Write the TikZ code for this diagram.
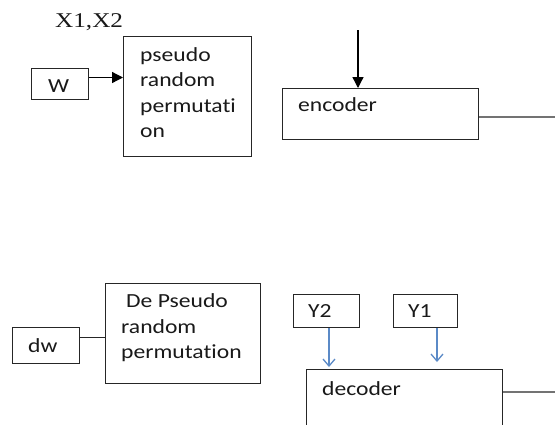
\documentclass[tikz,border=0pt]{standalone}
\usepackage{fontspec}
\setmainfont[FakeStretch=1.18,Ligatures=NoCommon]{Carlito}
\newfontfamily\serifx[FakeStretch=1.2]{Liberation Serif}
\usetikzlibrary{arrows.meta}
\begin{document}
\begin{tikzpicture}[x=1pt,y=-1pt,
  box/.style={draw=black!85,line width=1pt,rectangle,inner sep=0pt,anchor=north west},
  lbl/.style={inner sep=0pt,anchor=base west,font=\fontsize{20}{25.3}\selectfont,text=black!90},
  blk/.style={draw=black,line width=1.3pt,-{Triangle[length=11pt,width=11pt]}},
  blu/.style={color={rgb,255:red,91;green,138;blue,199},line width=1.3pt,-{Straight Barb[length=7pt,width=12pt]}},
  gry/.style={draw=black!55,line width=1.3pt}]
\clip (0,0) rectangle (555,424);
\fill[white] (0,0) rectangle (555,424);
% boxes
\node[box,minimum width=57pt,minimum height=31pt] (W) at (31,68) {};
\node[box,minimum width=128pt,minimum height=120pt] (P) at (123,36) {};
\node[box,minimum width=196pt,minimum height=51pt] (E) at (282,88) {};
\node[box,minimum width=67pt,minimum height=36pt] (dw) at (12,327) {};
\node[box,minimum width=155pt,minimum height=100pt] (D) at (105,283) {};
\node[box,minimum width=66pt,minimum height=33pt] (Y2) at (293,294) {};
\node[box,minimum width=64pt,minimum height=33pt] (Y1) at (393,294) {};
\node[box,minimum width=196pt,minimum height=80pt] (Dec) at (306,369) {};
% texts
\node[lbl,font=\serifx\fontsize{21}{24}\selectfont] (x12) at (55,27) {X1,X2};
\node[lbl] (tW) at (48,92) {W};
\node[lbl] (tP1) at (140,61) {pseudo};
\node[lbl] (tP2) at (140,86) {random};
\node[lbl] (tP3) at (140,112) {permutati};
\node[lbl] (tP4) at (140,137) {on};
\node[lbl] (tE) at (298,111) {encoder};
\node[lbl] (tdw) at (28,352) {dw};
\node[lbl] (tD1) at (126,307) {De Pseudo};
\node[lbl] (tD2) at (121,333) {random};
\node[lbl] (tD3) at (121,358) {permutation};
\node[lbl] (tY2) at (308,317) {Y2};
\node[lbl] (tY1) at (408,317) {Y1};
\node[lbl] (tDec) at (322,395) {decoder};
% connectors
\draw[blk] ([yshift=6.5pt]W.east) -- ([yshift=6.5pt]W.east -| P.west);
\coordinate (ein) at (358,30);
\draw[blk] (ein) -- (ein |- E.north);
\coordinate (eout) at (555,117);
\draw[gry] (E.east |- eout) -- (eout);
\draw[line width=1pt,black!85] ([yshift=8pt]dw.east) -- ([yshift=8pt]dw.east -| D.west);
\coordinate (y2end) at (329,367);
\draw[blu] (Y2.south -| y2end) -- (y2end);
\coordinate (y1end) at (437,362);
\draw[blu] (Y1.south -| y1end) -- (y1end);
\coordinate (dout) at (555,392);
\draw[gry] (Dec.east |- dout) -- (dout);
\end{tikzpicture}
\end{document}
